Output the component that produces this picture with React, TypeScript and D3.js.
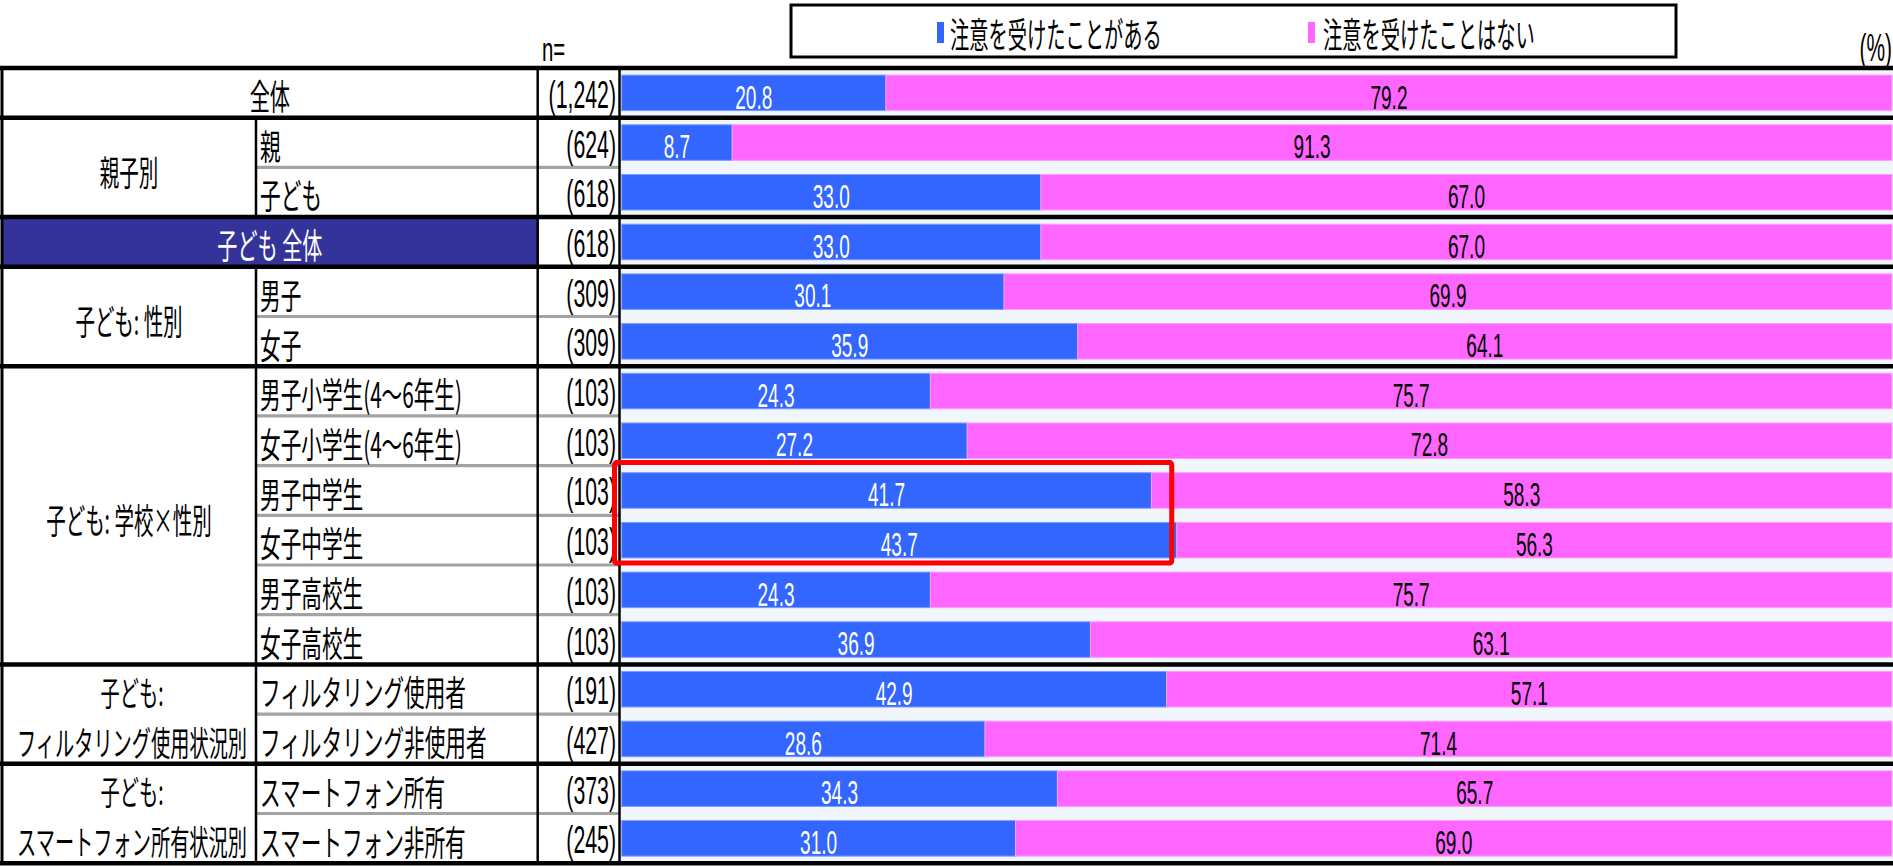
import React from "react";
import * as d3 from "d3";

const categories = [
  "全体", "親", "子ども", "子ども 全体", "男子", "女子",
  "男子小学生(4～6年生)", "女子小学生(4～6年生)", "男子中学生", "女子中学生",
  "男子高校生", "女子高校生", "フィルタリング使用者", "フィルタリング非使用者",
  "スマートフォン所有", "スマートフォン非所有",
];
const nValues = [1242, 624, 618, 618, 309, 309, 103, 103, 103, 103, 103, 103, 191, 427, 373, 245];
const warned = [20.8, 8.7, 33.0, 33.0, 30.1, 35.9, 24.3, 27.2, 41.7, 43.7, 24.3, 36.9, 42.9, 28.6, 34.3, 31.0];
const notWarned = [79.2, 91.3, 67.0, 67.0, 69.9, 64.1, 75.7, 72.8, 58.3, 56.3, 75.7, 63.1, 57.1, 71.4, 65.7, 69.0];
const seriesNames = ["注意を受けたことがある", "注意を受けたことはない"];
// full-width rows (span group + sub columns)
const spanRows = [0, 3];
const groups = [
  { lines: ["親子別"], start: 1, end: 3 },
  { lines: ["子ども: 性別"], start: 4, end: 6 },
  { lines: ["子ども: 学校×性別"], start: 6, end: 12 },
  { lines: ["子ども:", "フィルタリング使用状況別"], start: 12, end: 14 },
  { lines: ["子ども:", "スマートフォン所有状況別"], start: 14, end: 16 },
];
const groupBoundaries = [0, 1, 3, 4, 6, 12, 14, 16];
const highlightRows = [8, 9];
const highlightValue = 43.3;

const W = 1893, H = 866;
const TOP = 68, ROWH = 49.7;
const X_GROUP = 2, X_SUB = 256, X_N = 537.7, X_BAR = 619.5;
const BAR_START = 621.7, BAR_END = 1892;
const BLUE = "#3366ff", PINK = "#ff66ff";
const CJK = "'Noto Sans CJK JP', 'Noto Sans', sans-serif";
const NUM = "'Liberation Sans', Arial, sans-serif";

function T({ x, y, children, size = 35, sx = 0.56, anchor = "start", fill = "#000", family = CJK }: any) {
  return (
    <text
      transform={`translate(${x},${y}) scale(${sx},1)`}
      fontSize={size}
      fontFamily={family}
      textAnchor={anchor}
      dominantBaseline="central"
      fill={fill}
    >
      {children}
    </text>
  );
}

export default function App() {
  const idx = categories.map((_, i) => i);
  const rowY = (i: number) => TOP + i * ROWH;
  const y = d3.scaleBand<number>().domain(idx).range([TOP, TOP + categories.length * ROWH]).paddingInner(0.285).paddingOuter(0.1425);
  const x = d3.scaleLinear().domain([0, 100]).range([BAR_START, BAR_END]);
  const bottom = rowY(categories.length);
  const fmt = d3.format(",");

  return (
    <svg width={W} height={H} style={{ position: "absolute", left: 0, top: 0, background: "#fff" }}>
      {/* bar area background */}
      <rect x={X_BAR} y={TOP} width={W - X_BAR} height={bottom - TOP} fill="#f1f6fd" />
      {/* navy row */}
      <rect x={X_GROUP} y={rowY(3)} width={X_N - X_GROUP} height={ROWH} fill="#333399" />

      {/* bars */}
      {idx.map((i) => (
        <g key={i}>
          <rect x={x(0)} y={y(i)} width={x(warned[i]) - x(0)} height={y.bandwidth()} fill={BLUE} stroke="#7f9cff" strokeWidth={1} />
          <rect x={x(warned[i])} y={y(i)} width={x(warned[i] + notWarned[i]) - x(warned[i])} height={y.bandwidth()} fill={PINK} stroke="#ff9cff" strokeWidth={1} />
          <T x={(x(0) + x(warned[i])) / 2} y={y(i)! + y.bandwidth() / 2 + 4} size={34} sx={0.56} anchor="middle" fill="#fff" family={NUM}>
            {warned[i].toFixed(1)}
          </T>
          <T x={(x(warned[i]) + x(100)) / 2} y={y(i)! + y.bandwidth() / 2 + 4} size={34} sx={0.56} anchor="middle" fill="#000" family={NUM}>
            {notWarned[i].toFixed(1)}
          </T>
        </g>
      ))}

      {/* thin grey separators within groups */}
      {idx.slice(1).filter((i) => !groupBoundaries.includes(i)).map((i) => (
        <line key={"g" + i} x1={X_SUB} x2={X_BAR} y1={rowY(i)} y2={rowY(i)} stroke="#a3a3a3" strokeWidth={3.2} />
      ))}

      {/* vertical lines */}
      <line x1={X_GROUP} x2={X_GROUP} y1={TOP} y2={bottom} stroke="#000" strokeWidth={3} />
      {groups.map((g, k) => (
        <line key={"v" + k} x1={X_SUB} x2={X_SUB} y1={rowY(g.start)} y2={rowY(g.end)} stroke="#000" strokeWidth={2.5} />
      ))}
      <line x1={X_N} x2={X_N} y1={TOP} y2={bottom} stroke="#000" strokeWidth={2.5} />
      <line x1={X_BAR} x2={X_BAR} y1={TOP} y2={bottom} stroke="#000" strokeWidth={2.5} />

      {/* thick group lines */}
      {groupBoundaries.map((b) => (
        <line key={"t" + b} x1={0} x2={W} y1={rowY(b)} y2={rowY(b)} stroke="#000" strokeWidth={4.5} />
      ))}

      {/* row labels */}
      {idx.map((i) =>
        spanRows.includes(i) ? (
          <T key={"l" + i} x={(X_GROUP + X_N) / 2} y={rowY(i) + ROWH / 2 + 2} sx={0.575} anchor="middle" fill={i === 3 ? "#fff" : "#000"}>
            {categories[i]}
          </T>
        ) : (
          <T key={"l" + i} x={X_SUB + 4} y={rowY(i) + ROWH / 2 + 2} sx={0.59}>
            {categories[i]}
          </T>
        )
      )}
      {groups.map((g, k) =>
        g.lines.length === 1 ? (
          <T key={"gl" + k} x={(X_GROUP + X_SUB) / 2} y={(rowY(g.start) + rowY(g.end)) / 2 + 3} sx={0.557} anchor="middle">
            {g.lines[0]}
          </T>
        ) : (
          g.lines.map((ln, j) => (
            <T key={"gl" + k + j} x={(X_GROUP + X_SUB) / 2 + 3} y={rowY(g.start + j) + ROWH / 2 + 2} size={34} sx={0.565} anchor="middle">
              {ln}
            </T>
          ))
        )
      )}
      {/* n values */}
      {idx.map((i) => (
        <T key={"n" + i} x={616} y={rowY(i) + ROWH / 2 + 2} size={38} sx={0.56} anchor="end" family={NUM}>
          {`(${fmt(nValues[i])})`}
        </T>
      ))}
      <T x={542} y={49} size={34} sx={0.6} family={NUM}>n=</T>
      <T x={1892} y={47} size={38} sx={0.55} anchor="end" family={NUM}>(%)</T>

      {/* legend */}
      <rect x={791} y={5} width={885} height={52} fill="#fff" stroke="#000" strokeWidth={3} />
      <rect x={937} y={22} width={7} height={21} fill={BLUE} />
      <T x={950} y={33} size={35} sx={0.55}>{seriesNames[0]}</T>
      <rect x={1308} y={22} width={7} height={21} fill={PINK} />
      <T x={1323} y={33} size={35} sx={0.55}>{seriesNames[1]}</T>

      {/* highlight */}
      <rect
        x={X_BAR - 5}
        y={rowY(highlightRows[0]) - 3}
        width={x(highlightValue) - X_BAR + 5}
        height={ROWH * highlightRows.length + 1}
        fill="none"
        stroke="#ff0000"
        strokeWidth={5}
        rx={2}
      />
    </svg>
  );
}
